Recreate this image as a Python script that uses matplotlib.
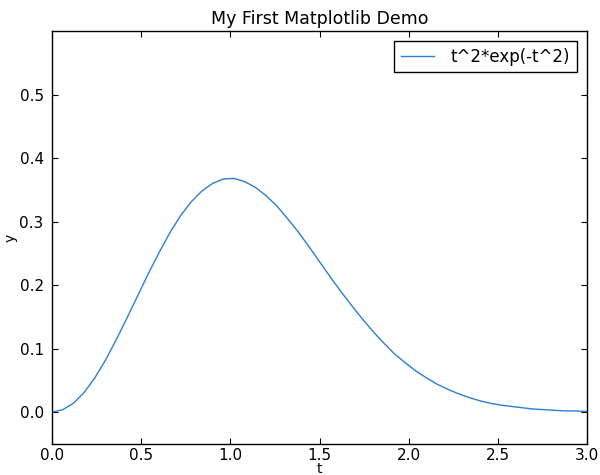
import matplotlib
matplotlib.use("Agg")
import matplotlib.pyplot as plt

# samples of the curve
t = [0.00, 0.06, 0.12, 0.18, 0.24, 0.30, 0.36, 0.42, 0.48, 0.54,
     0.60, 0.66, 0.72, 0.78, 0.84, 0.90, 0.96, 1.02, 1.08, 1.14,
     1.20, 1.26, 1.32, 1.38, 1.44, 1.50, 1.56, 1.62, 1.68, 1.74,
     1.80, 1.86, 1.92, 1.98, 2.04, 2.10, 2.16, 2.22, 2.28, 2.34,
     2.40, 2.46, 2.52, 2.58, 2.64, 2.70, 2.76, 2.82, 2.88, 2.94, 3.00]
y = [0.000, 0.004, 0.014, 0.031, 0.054, 0.082, 0.114, 0.148, 0.183, 0.218,
     0.251, 0.282, 0.309, 0.331, 0.348, 0.360, 0.367, 0.368, 0.363, 0.354,
     0.341, 0.325, 0.305, 0.284, 0.261, 0.237, 0.213, 0.190, 0.168, 0.147,
     0.127, 0.109, 0.092, 0.078, 0.065, 0.054, 0.044, 0.036, 0.029, 0.023,
     0.018, 0.014, 0.011, 0.009, 0.007, 0.005, 0.004, 0.003, 0.002, 0.002, 0.001]

fig = plt.figure(figsize=(6, 4.75), dpi=100)
ax = fig.add_axes([52 / 600, 31 / 475, 535 / 600, 413 / 475])

ax.plot(t, y, color='#2a7fd4', linewidth=1.0, label='t^2*exp(-t^2)')

ax.set_xlim(0, 3)
ax.set_ylim(-0.05, 0.6)
ax.set_xticks([0.0, 0.5, 1.0, 1.5, 2.0, 2.5, 3.0])
ax.set_yticks([0.0, 0.1, 0.2, 0.3, 0.4, 0.5])
ax.tick_params(direction='in', top=True, right=True, length=4, labelsize=11, pad=6)
ax.tick_params(axis='x', pad=3)
for s in ax.spines.values():
    s.set_linewidth(1.0)

ax.set_xlabel('t', fontsize=10, labelpad=-1)
ax.set_ylabel('y', fontsize=10, labelpad=1)
ax.set_title('My First Matplotlib Demo', fontsize=12.5, pad=5)

leg = ax.legend(loc='upper right', fontsize=12, fancybox=False, framealpha=1,
                edgecolor='black', borderaxespad=0.6, handletextpad=1.0)
leg.get_frame().set_linewidth(1.0)

fig.savefig('out.png', dpi=100)
